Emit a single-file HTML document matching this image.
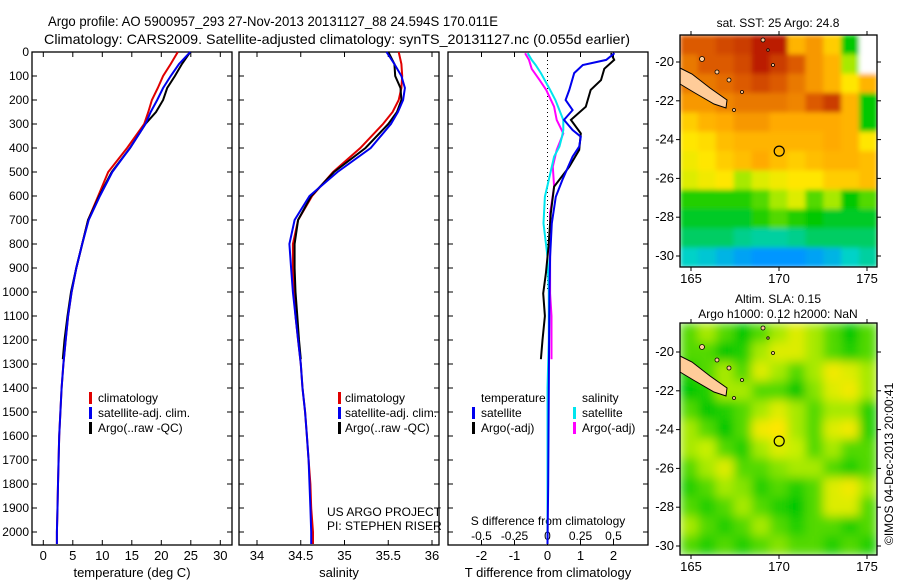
<!DOCTYPE html>
<html><head><meta charset="utf-8"><style>
body{margin:0;background:#fff}
svg{display:block;font-family:"Liberation Sans",sans-serif}
</style></head><body>
<svg id="c" width="900" height="580" viewBox="0 0 900 580" xmlns="http://www.w3.org/2000/svg">
<text x="48" y="26" font-size="14" textLength="450" lengthAdjust="spacingAndGlyphs">Argo profile: AO 5900957_293 27-Nov-2013 20131127_88 24.594S 170.011E</text>
<text x="44" y="44" font-size="14" textLength="586" lengthAdjust="spacingAndGlyphs">Climatology: CARS2009. Satellite-adjusted climatology: synTS_20131127.nc (0.055d earlier)</text>
<g id="g"></g>
</svg>
<script>
// ---------- data ----------
const tDepth=[0,50,100,150,200,250,300,400,500,600,700,800,900,1000,1100,1200,1300,1400,1500,1600,1700,1800,1900,2000,2050];
const tClim=[22.8,21.6,20.3,19.4,18.4,17.8,17.1,14.2,11.0,9.3,7.6,6.6,5.6,4.8,4.2,3.8,3.4,3.1,2.9,2.7,2.6,2.5,2.4,2.3,2.3];
const tSat=[24.9,23.0,21.6,20.3,19.3,18.2,17.3,14.7,11.7,9.6,7.7,6.6,5.6,4.8,4.2,3.8,3.4,3.1,2.9,2.7,2.6,2.5,2.4,2.3,2.3];
const argoDepth=[0,50,100,150,200,250,300,400,500,600,700,800,900,1000,1100,1200,1280];
const tArgo=[24.9,23.5,22.3,21.0,20.3,19.1,17.3,14.7,11.6,9.5,7.6,6.6,5.6,4.7,4.1,3.6,3.3];
const sClim=[35.62,35.65,35.66,35.65,35.62,35.55,35.44,35.18,34.87,34.63,34.47,34.41,34.41,34.42,34.44,34.47,34.50,34.52,34.55,34.57,34.59,34.61,34.62,34.64,34.64];
const sSat=[35.48,35.57,35.65,35.69,35.67,35.61,35.53,35.30,34.92,34.60,34.43,34.37,34.39,34.41,34.44,34.47,34.50,34.52,34.55,34.57,34.59,34.60,34.61,34.62,34.62];
const sArgo=[35.50,35.57,35.58,35.64,35.65,35.60,35.50,35.24,34.88,34.62,34.47,34.43,34.43,34.44,34.46,34.48,34.50];
const dDepth=[5,33,54,88,158,200,242,283,325,353,394,436,533,603,714,853,1000,1200,1400,1600,1800,2050];
const dTsat=[2.03,1.78,1.07,0.81,0.66,0.55,0.76,0.5,0.76,1.01,0.96,0.76,0.45,0.25,0.13,0.08,0.06,0.05,0.04,0.03,0.02,0.0];
const daDepth=[5,33,70,117,158,228,283,339,408,478,561,672,811,922,1006,1100,1200,1280];
const dTargo=[1.92,2.02,1.72,1.62,1.31,1.16,0.71,1.01,0.96,0.66,0.2,0.1,0.03,-0.05,-0.13,-0.08,-0.15,-0.2];
const dSsat=[-0.15,-0.12,-0.09,-0.05,0.02,0.06,0.09,0.12,0.12,0.11,0.09,0.05,0.01,-0.02,-0.03,0,0.01,0.01,0.0,0.0,0.0,0.0];
const dSargo=[-0.17,-0.14,-0.12,-0.06,-0.01,0.05,0.07,0.12,0.07,0.04,0.05,0.02,0.02,0.02,0.02,0.03,0.03,0.03];
const depthTicks=[0,100,200,300,400,500,600,700,800,900,1000,1100,1200,1300,1400,1500,1600,1700,1800,1900,2000];
const tTicks=[0,5,10,15,20,25,30];
const sTicks=[34,34.5,35,35.5,36];
const dTTicks=[-2,-1,0,1,2];
const dSTickLabels=["-0.5","-0.25","0","0.25","0.5"];
const dSTicks=[-0.5,-0.25,0,0.25,0.5];
const sstGrid=[
[.85,.85,.88,.9,.95,.95,.7,.75,.65,.4,-1],
[.8,.85,.85,.88,.95,.9,.85,.75,.7,.5,-1],
[.8,.8,.82,.85,.88,.85,.8,.75,.7,.6,.7],
[.75,.75,.78,.8,.8,.8,.78,.85,.9,.7,.4],
[.65,.7,.72,.75,.75,.72,.72,.72,.72,.7,.4],
[.6,.62,.68,.7,.7,.7,.7,.7,.72,.7,.6],
[.58,.6,.65,.68,.72,.68,.65,.68,.7,.7,.68],
[.55,.58,.6,.5,.55,.58,.6,.6,.65,.65,.68],
[.42,.42,.42,.42,.45,.5,.55,.45,.5,.4,.45],
[.38,.38,.38,.38,.42,.45,.42,.4,.38,.38,.38],
[.35,.35,.35,.33,.32,.32,.33,.35,.35,.35,.35],
[.3,.28,.25,.22,.2,.2,.2,.22,.25,.3,.32]];
const slaGrid=[
[.45,.5,.45,.4,.45,.5,.55,.5,.45,.4,.45],
[.45,.45,.4,.42,.5,.55,.55,.5,.45,.42,.45],
[.42,.45,.5,.45,.55,.5,.45,.5,.58,.55,.5],
[.4,.42,.5,.5,.45,.45,.4,.48,.55,.58,.5],
[.45,.4,.42,.45,.5,.55,.5,.45,.5,.5,.42],
[.5,.45,.4,.45,.58,.6,.5,.45,.55,.58,.42],
[.5,.52,.45,.42,.5,.55,.52,.45,.5,.45,.45],
[.45,.5,.55,.45,.45,.48,.5,.5,.45,.42,.45],
[.42,.45,.5,.48,.42,.45,.42,.45,.55,.58,.5],
[.45,.42,.45,.5,.45,.42,.4,.45,.55,.55,.45],
[.5,.45,.42,.45,.5,.45,.42,.45,.45,.42,.45],
[.45,.42,.45,.42,.45,.48,.45,.45,.42,.45,.42]];
const lonTicks=[165,170,175];
const latTicks=[-20,-22,-24,-26,-28,-30];

// ---------- helpers ----------
const NS="http://www.w3.org/2000/svg";
const G=document.getElementById('g');
function mk(tag,at,txt){const e=document.createElementNS(NS,tag);for(const k in at)e.setAttribute(k,at[k]);if(txt!==undefined)e.textContent=txt;G.appendChild(e);return e;}
const PT=52, PB=545;
const yD=d=>PT+d*0.24;
const xT=v=>43.3+v*5.9;
const xS=v=>257+(v-34)*87.5;
const xDT=v=>547.5+v*33;
const xDS=v=>547.5+v*132;

function frame(x0,x1,name){
  const r=mk('rect',{x:x0,y:PT,width:x1-x0,height:PB-PT,fill:'none',stroke:'#000','stroke-width':1.3});
  
  depthTicks.forEach(d=>{
    const l=mk('line',{x1:x0,x2:x0+5,y1:yD(d),y2:yD(d),stroke:'#000'});
    
    const l2=mk('line',{x1:x1-5,x2:x1,y1:yD(d),y2:yD(d),stroke:'#000'});
    
  });
}
function xticks(vals,fx,labels,ly,name){
  vals.forEach((v,i)=>{
    const x=fx(v);
    const a=mk('line',{x1:x,x2:x,y1:PB,y2:PB-5,stroke:'#000'});
    
    const b=mk('line',{x1:x,x2:x,y1:PT,y2:PT+5,stroke:'#000'});
    
    const t=mk('text',{x:x,y:ly,'font-size':13,'text-anchor':'middle'},labels[i]);
    
  });
}
function line(xs,ds,fx,color,name,w){
  const p=xs.map((v,i)=>(i?'L':'M')+fx(v).toFixed(1)+','+yD(ds[i]).toFixed(1)).join('');
  const e=mk('path',{d:p,fill:'none',stroke:color,'stroke-width':w||2});
  
}
function label(x,y,s,name,anchor,size){
  const t=mk('text',{x:x,y:y,'font-size':size||12,'text-anchor':anchor||'start'},s);
  return t;
}
function legBar(x,y,color,name){
  const r=mk('rect',{x:x,y:y-10,width:3,height:12,fill:color});
  
}

// ---------- panel 1: temperature ----------
frame(32,232,'temperature-panel');
depthTicks.forEach(d=>label(29,yD(d)+4,String(d),'depth-label','end',12));
xticks(tTicks,xT,tTicks.map(String),560,'temp-x');
label(132,577,'temperature (deg C)','temp-x-title','middle',13);
line(tClim,tDepth,xT,'#e00000','temp-climatology-line');
line(tArgo,argoDepth,xT,'#000','temp-argo-line');
line(tSat,tDepth,xT,'#0000ee','temp-satellite-line');
legBar(89,402,'#e00000','legend-climatology-swatch');label(98,402,'climatology','legend-climatology');
legBar(89,417,'#0000ee','legend-satellite-swatch');label(98,417,'satellite-adj. clim.','legend-satellite');
legBar(89,432,'#000','legend-argo-swatch');label(98,432,'Argo(..raw -QC)','legend-argo');

// ---------- panel 2: salinity ----------
frame(239,439,'salinity-panel');
xticks(sTicks,xS,sTicks.map(String),560,'sal-x');
label(339,577,'salinity','sal-x-title','middle',13);
line(sClim,tDepth,xS,'#e00000','sal-climatology-line');
line(sArgo,argoDepth,xS,'#000','sal-argo-line');
line(sSat,tDepth,xS,'#0000ee','sal-satellite-line');
legBar(338,402,'#e00000','legend2-climatology-swatch');label(345,402,'climatology','legend2-climatology');
legBar(338,417,'#0000ee','legend2-satellite-swatch');label(345,417,'satellite-adj. clim.','legend2-satellite');
legBar(338,432,'#000','legend2-argo-swatch');label(345,432,'Argo(..raw -QC)','legend2-argo');
label(327,516,'US ARGO PROJECT','project-label');
label(327,530,'PI: STEPHEN RISER','pi-label');

// ---------- panel 3: differences ----------
frame(448,648,'difference-panel');
xticks(dTTicks,xDT,dTTicks.map(String),560,'tdiff-x');
dSTicks.forEach((v,i)=>{label(xDS(v),540,dSTickLabels[i],'sdiff-tick-label','middle',12);});
label(548,525,'S difference from climatology','sdiff-title','middle',12);
label(548,577,'T difference from climatology','tdiff-x-title','middle',13);
const z=mk('line',{x1:xDT(0),x2:xDT(0),y1:PT,y2:yD(1000),stroke:'#000','stroke-dasharray':'1,3'});

line(dSargo,daDepth,xDS,'#ff00ff','sdiff-argo-line');
line(dSsat,dDepth,xDS,'#00e5ee','sdiff-satellite-line');
line(dTargo,daDepth,xDT,'#000','tdiff-argo-line');
line(dTsat,dDepth,xDT,'#0000ee','tdiff-satellite-line');
label(481,402,'temperature','legend3-temperature');
label(582,402,'salinity','legend3-salinity');
legBar(472,417,'#0000ee','legend3-tsat-swatch');label(481,417,'satellite','legend3-tsat');
legBar(472,432,'#000','legend3-targo-swatch');label(481,432,'Argo(-adj)','legend3-targo');
legBar(573,417,'#00e5ee','legend3-ssat-swatch');label(582,417,'satellite','legend3-ssat');
legBar(573,432,'#ff00ff','legend3-sargo-swatch');label(582,432,'Argo(-adj)','legend3-sargo');

// ---------- maps ----------
function cmap(v){
  if(v<0)return '#fff';
  const st=[[0,[0,0,180]],[.2,[0,150,255]],[.3,[0,210,200]],[.4,[0,200,0]],[.52,[200,240,0]],[.6,[255,230,0]],[.72,[255,170,0]],[.85,[220,90,0]],[1,[170,0,0]]];
  for(let i=1;i<st.length;i++){if(v<=st[i][0]){const a=st[i-1],b=st[i],t=(v-a[0])/(b[0]-a[0]);return 'rgb('+a[1].map((c,k)=>Math.round(c+(b[1][k]-c)*t)).join(',')+')';}}
  return 'rgb(170,0,0)';
}
function mapPanel(grid,top,lat20,title1,title2,name,blur){
  const X0=680,X1=877,bottom=top+232;
  const xL=lon=>691+(lon-165)*17.6;
  const yL=lat=>lat20+(-20-lat)*19.4;
  const gr=mk('g',{});
  
  gr.setAttribute('filter',blur?'url(#bl)':'url(#bl2)');
  const rows=grid.length,cols=grid[0].length,cw=(X1-X0)/cols,ch=(bottom-top)/rows;
  grid.forEach((row,r)=>row.forEach((v,c)=>{
    const e=document.createElementNS(NS,'rect');
    e.setAttribute('x',X0+c*cw);e.setAttribute('y',top+r*ch);e.setAttribute('width',cw+0.5);e.setAttribute('height',ch+0.5);e.setAttribute('fill',cmap(v));
    
    
    gr.appendChild(e);
  }));
  const dy=top-35;
  const isl=mk('polygon',{points:[[680,68],[692,74],[710,88],[727,100],[726,108],[714,104],[695,93],[680,84]].map(p=>p[0]+','+(p[1]+dy)).join(' '),fill:'#ffcc99',stroke:'#000','stroke-width':1});
  
  [[702,59,2.5],[717,72,2],[729,80,2],[742,92,1.5],[734,110,1.5],[773,65,1.5],[763,40,2],[768,50,1.2]].forEach(p=>{
    const c=mk('circle',{cx:p[0],cy:p[1]+dy,r:p[2],fill:'#ffcc99',stroke:'#000','stroke-width':0.8});
    
  });
  const f=mk('rect',{x:X0,y:top,width:X1-X0,height:bottom-top,fill:'none',stroke:'#000','stroke-width':1.3});
  
  const ci=mk('circle',{cx:xL(170.011),cy:yL(-24.594),r:5,fill:'none',stroke:'#000','stroke-width':1.2});
  
  lonTicks.forEach(l=>{
    const a=mk('line',{x1:xL(l),x2:xL(l),y1:bottom,y2:bottom+4,stroke:'#000'});
    const b=mk('line',{x1:xL(l),x2:xL(l),y1:top,y2:top-4,stroke:'#000'});
    label(xL(l),bottom+16,String(l),'lon-label','middle',13);
  });
  latTicks.forEach(l=>{
    const a=mk('line',{x1:X0-4,x2:X0,y1:yL(l),y2:yL(l),stroke:'#000'});
    const b=mk('line',{x1:X1,x2:X1+4,y1:yL(l),y2:yL(l),stroke:'#000'});
    label(X0-6,yL(l)+4,String(l),'lat-label','end',13);
  });
  if(title2){label(778,top-20,title1,name+'-title','middle',12);label(778,top-5,title2,name+'-subtitle','middle',12);}
  else label(778,top-8,title1,name+'-title','middle',12);
}
const defs=mk('defs',{});
defs.innerHTML='<filter id="bl" x="0" y="0" width="1" height="1"><feGaussianBlur stdDeviation="5" edgeMode="duplicate"/></filter><filter id="bl2" x="0" y="0" width="1" height="1"><feGaussianBlur stdDeviation="2.5" edgeMode="duplicate"/></filter>';
mapPanel(sstGrid,35,62,'sat. SST: 25 Argo: 24.8',null,'sst-map',false);
mapPanel(slaGrid,323,352,'Altim. SLA: 0.15','Argo h1000: 0.12 h2000: NaN','sla-map',true);
const cr=mk('text',{x:0,y:0,'font-size':12,transform:'translate(893,545) rotate(-90)'},'©IMOS 04-Dec-2013 20:00:41');

</script>
</body></html>
